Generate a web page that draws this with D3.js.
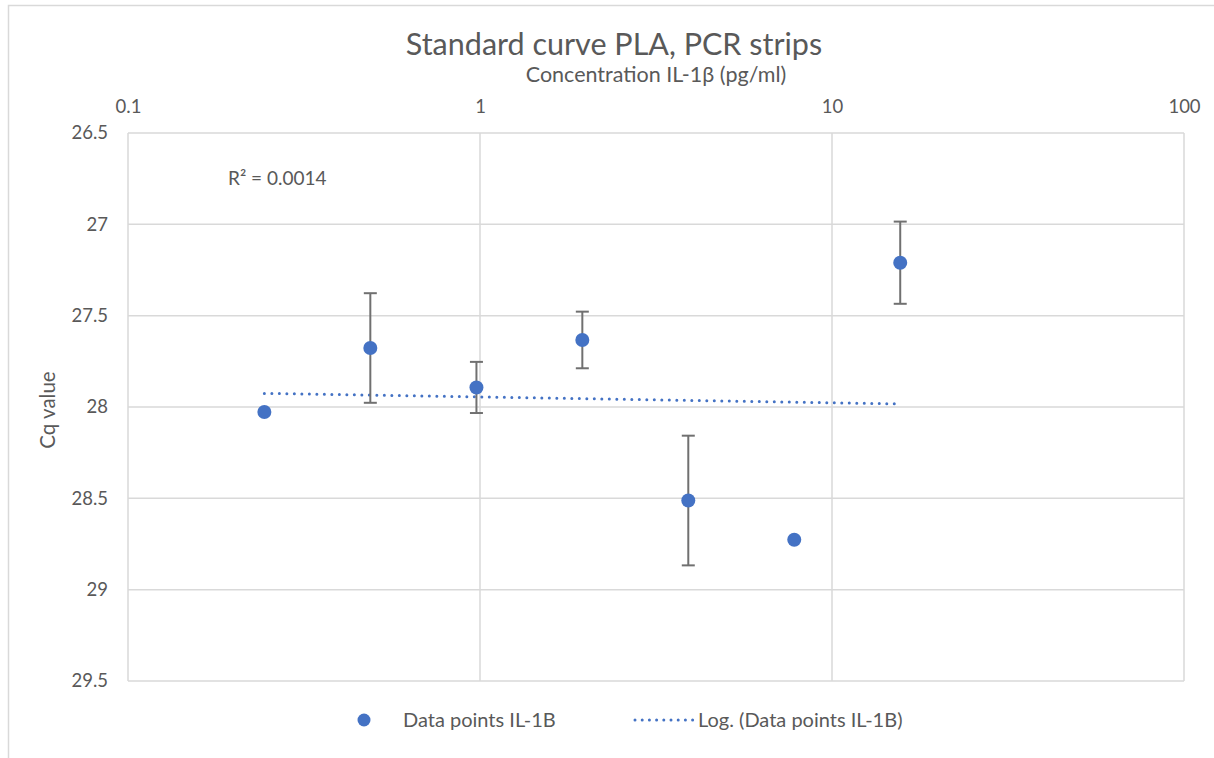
<!DOCTYPE html>
<html>
<head>
<meta charset="utf-8">
<script src="https://cdn.jsdelivr.net/npm/d3@7"></script>
<style>
  html, body { margin: 0; padding: 0; background: #fff; }
  svg { display: block; }
  text { font-family: Lato, "Open Sans", sans-serif; fill: #595959; }
</style>
</head>
<body>
<svg id="chart" width="1214" height="758"></svg>
<script>
const concentrations = [0.244, 0.488, 0.977, 1.953, 3.906, 7.8125, 15.625];
const cqValues = [28.027, 27.677, 27.893, 27.633, 28.512, 28.727, 27.210];
const cqErrors = [0, 0.30, 0.14, 0.155, 0.355, 0, 0.225];
const xTicks = [0.1, 1, 10, 100];
const yTicks = [26.5, 27, 27.5, 28, 28.5, 29, 29.5];
const titleText = "Standard curve PLA, PCR strips";
const xTitle = "Concentration IL-1β (pg/ml)";
const yTitle = "Cq value";
const seriesName = "Data points IL-1B";
const trendName = "Log. (Data points IL-1B)";
const r2Label = "R² = 0.0014";

const svg = d3.select("#chart");
const margin = {left: 128, right: 1184, top: 133, bottom: 681};

const x = d3.scaleLog().domain([0.1, 100]).range([margin.left, margin.right]);
const y = d3.scaleLinear().domain([26.5, 29.5]).range([margin.top, margin.bottom]);

// chart frame
svg.append("path").attr("d", "M8.5,758 L8.5,5.5 L1214,5.5")
  .attr("fill", "none").attr("stroke", "#d9d9d9").attr("stroke-width", 1.5);

// grid
const grid = svg.append("g");
grid.selectAll("line.h").data(yTicks).join("line")
  .attr("x1", margin.left).attr("x2", margin.right)
  .attr("y1", d => y(d)).attr("y2", d => y(d))
  .attr("stroke", "#d9d9d9").attr("stroke-width", 1.5);
grid.selectAll("line.v").data(xTicks).join("line")
  .attr("y1", margin.top).attr("y2", margin.bottom)
  .attr("x1", d => x(d)).attr("x2", d => x(d))
  .attr("stroke", "#d9d9d9").attr("stroke-width", 1.5);

// axes (top x, left y)
const xAxis = svg.append("g").attr("transform", `translate(0,${margin.top - 20})`)
  .call(d3.axisTop(x).tickValues(xTicks).tickFormat(d => String(d)).tickSize(0).tickPadding(0));
xAxis.select(".domain").remove();
xAxis.selectAll("text").attr("font-size", 18.5).attr("fill", "#595959")
  .style("font-family", "Lato, 'Open Sans', sans-serif");

const yAxis = svg.append("g").attr("transform", `translate(${margin.left - 20},0)`)
  .call(d3.axisLeft(y).tickValues(yTicks).tickFormat(d => String(d)).tickSize(0).tickPadding(0));
yAxis.select(".domain").remove();
yAxis.selectAll("text").attr("font-size", 18.5).attr("fill", "#595959")
  .style("font-family", "Lato, 'Open Sans', sans-serif");

// titles
svg.append("text").attr("x", 614).attr("y", 55).attr("text-anchor", "middle")
  .attr("font-size", 30.5).text(titleText);
svg.append("text").attr("x", 656).attr("y", 82).attr("text-anchor", "middle")
  .attr("font-size", 21.5).text(xTitle);
svg.append("text").attr("transform", "translate(55,410) rotate(-90)")
  .attr("text-anchor", "middle").attr("font-size", 20.5).text(yTitle);

// R² label
svg.append("text").attr("x", 228).attr("y", 185).attr("font-size", 19).text(r2Label);

// log trend line (least squares on ln x)
const lx = concentrations.map(Math.log);
const mx = d3.mean(lx), my = d3.mean(cqValues);
const sxy = d3.sum(lx.map((v, i) => (v - mx) * (cqValues[i] - my)));
const sxx = d3.sum(lx.map(v => (v - mx) ** 2));
const slope = sxy / sxx, intercept = my - slope * mx;
const xMin = d3.min(concentrations), xMax = d3.max(concentrations);
const trendPts = d3.range(0, 41).map(i => {
  const c = Math.exp(Math.log(xMin) + (Math.log(xMax) - Math.log(xMin)) * i / 40);
  return [c, intercept + slope * Math.log(c)];
});
svg.append("path").datum(trendPts)
  .attr("d", d3.line().x(d => x(d[0])).y(d => y(d[1])))
  .attr("fill", "none").attr("stroke", "#4472c4").attr("stroke-width", 3)
  .attr("stroke-linecap", "round").attr("stroke-dasharray", "0,7.5");

// error bars
const data = concentrations.map((c, i) => ({c, v: cqValues[i], e: cqErrors[i]}));
const eb = svg.append("g").attr("stroke", "#707070").attr("stroke-width", 2);
data.filter(d => d.e > 0).forEach(d => {
  const cx = x(d.c);
  eb.append("line").attr("x1", cx).attr("x2", cx).attr("y1", y(d.v - d.e)).attr("y2", y(d.v + d.e));
  eb.append("line").attr("x1", cx - 6.5).attr("x2", cx + 6.5).attr("y1", y(d.v - d.e)).attr("y2", y(d.v - d.e));
  eb.append("line").attr("x1", cx - 6.5).attr("x2", cx + 6.5).attr("y1", y(d.v + d.e)).attr("y2", y(d.v + d.e));
});

// points
svg.append("g").selectAll("circle").data(data).join("circle")
  .attr("cx", d => x(d.c)).attr("cy", d => y(d.v)).attr("r", 7)
  .attr("fill", "#4472c4");

// legend
svg.append("circle").attr("cx", 364).attr("cy", 720).attr("r", 6.5).attr("fill", "#4472c4");
svg.append("text").attr("x", 403).attr("y", 727).attr("font-size", 20).text(seriesName);
svg.append("line").attr("x1", 635).attr("x2", 693).attr("y1", 720).attr("y2", 720)
  .attr("stroke", "#4472c4").attr("stroke-width", 3).attr("stroke-linecap", "round")
  .attr("stroke-dasharray", "0,7.2");
svg.append("text").attr("x", 698).attr("y", 727).attr("font-size", 20).text(trendName);
</script>
</body>
</html>
